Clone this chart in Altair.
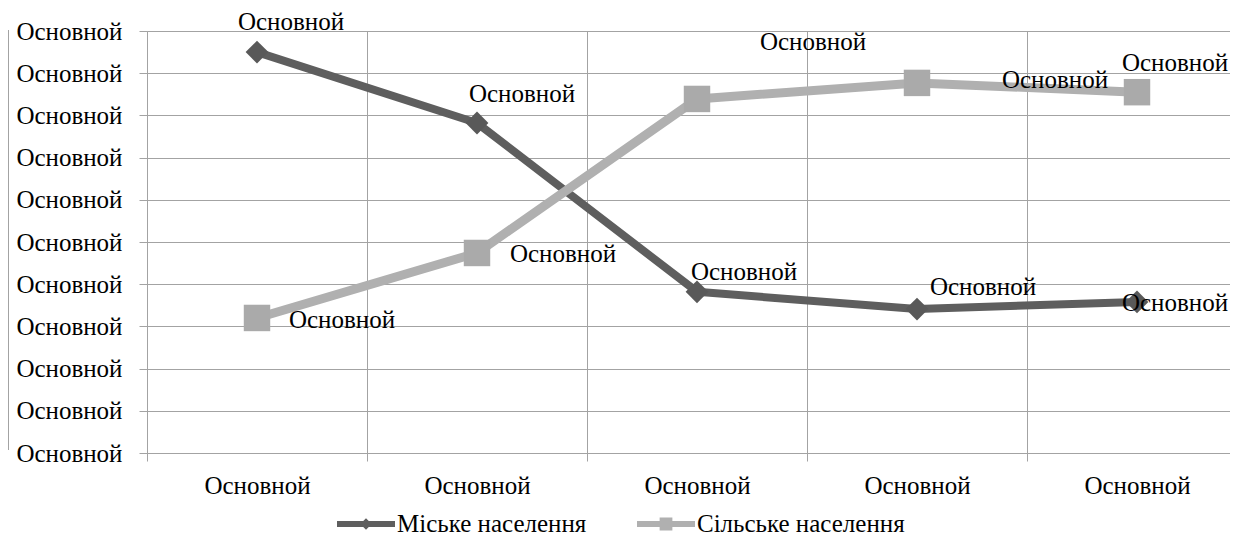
import json
import altair as alt
import pandas as pd

# ---------------- data ----------------
categories = ["Основной", "Основной", "Основной", "Основной", "Основной"]
series_names = ["Міське населення", "Сільське населення"]
urban = [95.0, 78.2, 38.2, 34.1, 35.8]
rural = [32.0, 47.4, 83.9, 87.7, 85.5]
urban_labels = ["Основной", "Основной", "Основной", "Основной", "Основной"]
rural_labels = ["Основной", "Основной", "Основной", "Основной", "Основной"]
y_tick_values = [0, 10, 20, 30, 40, 50, 60, 70, 80, 90, 100]
y_tick_labels = ["Основной"] * 11

rows = []
for i in range(len(categories)):
    rows.append({"idx": i, "series": series_names[0], "value": urban[i], "label": urban_labels[i]})
    rows.append({"idx": i, "series": series_names[1], "value": rural[i], "label": rural_labels[i]})
df = pd.DataFrame(rows)

# ---------------- styles ----------------
FONT = "Liberation Serif, Times New Roman, serif"
FS = 25
GRID = "#a3a3a3"
DARK = "#5e5e5e"
LIGHT = "#b0b0b0"
DARK_MK = "#595959"
LIGHT_MK = "#aaaaaa"

W = 1083
H = 422
step_px = 220.0
x_max = W / step_px

x_scale = alt.Scale(domain=[0, x_max], nice=False, zero=False)
y_scale = alt.Scale(domain=[0, 100], nice=False)

cat_js = json.dumps(categories, ensure_ascii=False)
ylab_js = json.dumps(y_tick_labels, ensure_ascii=False)

is_int = "datum.value % 1 == 0"
x_axis = alt.Axis(
    values=[0, 0.5, 1, 1.5, 2, 2.5, 3, 3.5, 4, 4.5],
    grid=True,
    gridColor=GRID,
    gridWidth=1,
    gridOpacity={"condition": {"test": is_int, "value": 1}, "value": 0},
    ticks=True,
    tickColor=GRID,
    tickSize=8,
    tickOpacity={"condition": {"test": is_int, "value": 1}, "value": 0},
    domain=True,
    domainColor=GRID,
    labelExpr=f"{is_int} ? '' : {cat_js}[floor(datum.value)]",
    labelFont=FONT,
    labelFontSize=FS,
    labelColor="black",
    labelPadding=12,
    labelOverlap=False,
    labelBound=False,
    labelFlush=False,
    labelLimit=0,
    title=None,
)
y_axis = alt.Axis(
    values=y_tick_values,
    grid=True,
    gridColor=GRID,
    tickColor=GRID,
    tickSize=8,
    domain=True,
    domainColor=GRID,
    labelExpr=f"{ylab_js}[round(datum.value / 10)]",
    labelFont=FONT,
    labelFontSize=FS,
    labelColor="black",
    labelPadding=17,
    labelOverlap=False,
    labelBound=False,
    labelFlush=False,
    labelLimit=0,
    title=None,
)

base = alt.Chart(df).transform_calculate(xpos="datum.idx + 0.5")
X = alt.X("xpos:Q", scale=x_scale, axis=x_axis)
Y = alt.Y("value:Q", scale=y_scale, axis=y_axis)
Xn = alt.X("xpos:Q", scale=x_scale)
Yn = alt.Y("value:Q", scale=y_scale)

urban_f = alt.datum.series == series_names[0]
rural_f = alt.datum.series == series_names[1]

grid_layer = base.mark_point(opacity=0).encode(x=X, y=Y)

urban_line = base.transform_filter(urban_f).mark_line(
    color=DARK, strokeWidth=8, strokeCap="round", strokeJoin="round"
).encode(x=Xn, y=Yn, order="idx:Q")
urban_pts = base.transform_filter(urban_f).mark_point(
    shape="diamond", filled=True, size=520, color=DARK_MK, opacity=1
).encode(x=Xn, y=Yn)
rural_line = base.transform_filter(rural_f).mark_line(
    color=LIGHT, strokeWidth=9, strokeCap="round", strokeJoin="round"
).encode(x=Xn, y=Yn, order="idx:Q")
rural_pts = base.transform_filter(rural_f).mark_point(
    shape="square", filled=True, size=700, color=LIGHT_MK, opacity=1
).encode(x=Xn, y=Yn)

# data-label placement (label styling, as placed in the original)
label_offsets = {
    (0, 0): (34, -30), (0, 1): (45, -29), (0, 2): (47, -20), (0, 3): (66, -22), (0, 4): (38, 1),
    (1, 0): (85, 2), (1, 1): (86, 1), (1, 2): (116, -57), (1, 3): (138, -3), (1, 4): (38, -29),
}
text_layers = []
for (s, i), (dx, dy) in label_offsets.items():
    t = base.transform_filter(
        (alt.datum.series == series_names[s]) & (alt.datum.idx == i)
    ).mark_text(
        font=FONT, fontSize=FS, color="black", align="center", baseline="middle", dx=dx, dy=dy
    ).encode(x=Xn, y=Yn, text="label:N")
    text_layers.append(t)

# legend symbols: line with marker
line_diamond = ("M-1,-0.1 L1,-0.1 L1,0.1 L-1,0.1 Z "
                "M0,-0.2 L0.2,0 L0,0.2 L-0.2,0 Z")
line_square = ("M-1,-0.1 L1,-0.1 L1,0.1 L-1,0.1 Z "
               "M-0.22,-0.22 L0.22,-0.22 L0.22,0.22 L-0.22,0.22 Z")
leg = alt.Legend(
    title=None,
    orient="none",
    legendX=190,
    legendY=464,
    direction="horizontal",
    symbolSize=3364,
    symbolStrokeWidth=0,
    symbolOpacity=1,
    labelFont=FONT,
    labelFontSize=FS,
    labelColor="black",
    labelOffset=2,
    labelLimit=0,
    columnPadding=50,
    padding=0,
)
legend_layer = base.transform_filter("false").mark_point(filled=True, size=3364).encode(
    x=Xn,
    y=Yn,
    color=alt.Color("series:N", scale=alt.Scale(domain=series_names, range=[DARK, LIGHT]), legend=leg),
    shape=alt.Shape("series:N", scale=alt.Scale(domain=series_names, range=[line_diamond, line_square]), legend=leg),
)

left_rule = alt.Chart(pd.DataFrame({"a": [0]})).mark_rule(color=GRID, strokeWidth=1).encode(
    x=alt.value(-138.5), y=alt.value(-1), y2=alt.value(419)
)

chart = alt.layer(
    grid_layer, left_rule, urban_line, urban_pts, rural_line, rural_pts, *text_layers, legend_layer
).properties(
    width=W,
    height=H,
    autosize=alt.AutoSizeParams(type="none"),
    padding={"left": 139, "top": 23, "right": 0, "bottom": 86},
    background="white",
).configure_view(stroke=None)

chart.save("out.html", embed_options={"renderer": "svg", "actions": False})
